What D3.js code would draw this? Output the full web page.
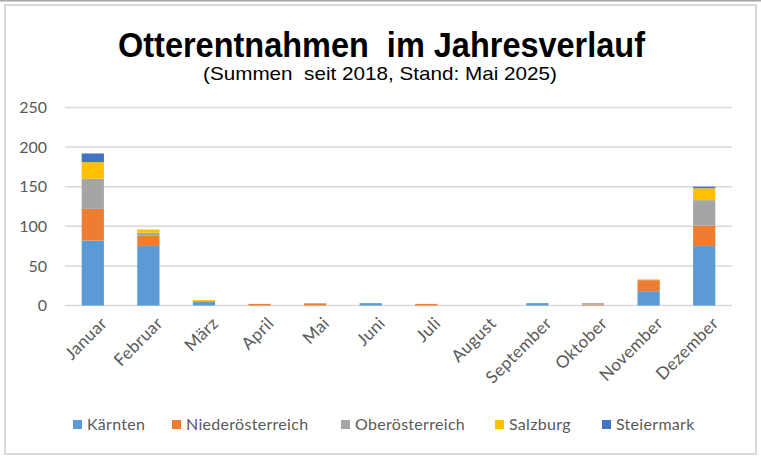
<!DOCTYPE html>
<html>
<head>
<meta charset="utf-8">
<script src="https://cdn.jsdelivr.net/npm/d3@7"></script>
<style>
html,body{margin:0;padding:0;background:#fff;}
svg{display:block;}
.pre{white-space:pre;}
</style>
</head>
<body>
<svg id="chart" width="761" height="458"></svg>
<script>
const months = ["Januar","Februar","März","April","Mai","Juni","Juli","August","September","Oktober","November","Dezember"];
const seriesNames = ["Kärnten","Niederösterreich","Oberösterreich","Salzburg","Steiermark"];
const colors = ["#5B9BD5","#ED7D31","#A5A5A5","#FFC000","#4472C4"];
const kaernten        = [82, 75, 5, 0, 0, 3, 0, 0, 3, 0, 18, 75];
const niederoesterr   = [40, 13, 1, 2, 2, 0, 2, 0, 0, 1, 14, 26];
const oberoesterr     = [38, 4, 0, 0, 1, 0, 0, 0, 0, 2, 0, 32];
const salzburg        = [21, 4, 1, 0, 0, 0, 0, 0, 0, 0, 1, 15];
const steiermark      = [11, 0, 0, 0, 0, 0, 0, 0, 0, 0, 0, 2];
const yTicks = [0, 50, 100, 150, 200, 250];

const seriesValues = [kaernten, niederoesterr, oberoesterr, salzburg, steiermark];
const table = months.map((m, i) => {
  const row = {month: m};
  seriesNames.forEach((s, j) => row[s] = seriesValues[j][i]);
  return row;
});

const svg = d3.select("#chart");
const W = 761, H = 458;

// frame
svg.append("rect").attr("x",0).attr("y",0).attr("width",W).attr("height",H).attr("fill","#fff");
svg.append("line").attr("x1",0).attr("x2",W).attr("y1",0.75).attr("y2",0.75).attr("stroke","#A6A6A6").attr("stroke-width",1.5);
svg.append("rect").attr("x",5).attr("y",5).attr("width",751).attr("height",449)
  .attr("fill","none").attr("stroke","#D9D9D9").attr("stroke-width",2);

const m = {left: 65, right: 29};
const x = d3.scaleBand().domain(months).range([m.left, W - m.right]).paddingInner(0.6).paddingOuter(0.3);
const y = d3.scaleLinear().domain([0, 250]).range([305.5, 107.5]);

// gridlines
svg.append("g").selectAll("line").data(yTicks).join("line")
  .attr("x1", m.left).attr("x2", W - m.right)
  .attr("y1", d => y(d)).attr("y2", d => y(d))
  .attr("stroke", "#D9D9D9").attr("stroke-width", 1.5);

// y axis labels
const yAxis = d3.axisLeft(y).tickValues(yTicks).tickSize(0).tickPadding(0);
const yg = svg.append("g").attr("transform", `translate(${47},0)`).call(yAxis);
yg.select(".domain").remove();
yg.selectAll("text").attr("font-family","Lato, 'Open Sans', sans-serif").attr("font-size",16).attr("fill","#595959");

// bars
const stack = d3.stack().keys(seriesNames);
const stacked = stack(table);
svg.append("g").selectAll("g").data(stacked).join("g")
  .attr("fill", (d, i) => colors[i])
  .selectAll("rect").data(d => d).join("rect")
  .attr("x", d => x(d.data.month))
  .attr("width", x.bandwidth())
  .attr("y", d => y(d[1]))
  .attr("height", d => Math.max(0, y(d[0]) - y(d[1])));

// x axis labels
const xAxis = d3.axisBottom(x).tickSize(0).tickPadding(0);
const xg = svg.append("g").attr("transform", `translate(0,${316})`).call(xAxis);
xg.select(".domain").remove();
xg.selectAll("text")
  .attr("font-family","Lato, 'Open Sans', sans-serif").attr("font-size",17).attr("fill","#595959")
  .attr("letter-spacing", 0.4)
  .attr("text-anchor","end").attr("dy","0.7em")
  .attr("transform","translate(7,0) rotate(-45)");

// title
svg.append("text").attr("class","pre").attr("x", 381.5).attr("y", 57).attr("text-anchor","middle")
  .attr("font-family","'Liberation Sans', Arial, sans-serif").attr("font-weight","bold").attr("font-size",35)
  .attr("textLength", 527).attr("lengthAdjust","spacingAndGlyphs")
  .attr("fill","#000").text("Otterentnahmen  im Jahresverlauf");
svg.append("text").attr("class","pre").attr("x", 380).attr("y", 80).attr("text-anchor","middle")
  .attr("font-family","'Liberation Sans', Arial, sans-serif").attr("font-size",19)
  .attr("textLength", 354).attr("lengthAdjust","spacingAndGlyphs")
  .attr("fill","#000").text("(Summen  seit 2018, Stand: Mai 2025)");

// legend
const legendX = [73, 172, 341, 495, 602];
const lg = svg.append("g").selectAll("g").data(seriesNames).join("g")
  .attr("transform", (d, i) => `translate(${legendX[i]},${420})`);
lg.append("rect").attr("width", 9).attr("height", 9).attr("fill", (d, i) => colors[i]);
lg.append("text").attr("x", 14).attr("y", 9.5)
  .attr("font-family","Lato, 'Open Sans', sans-serif").attr("font-size",16).attr("fill","#595959")
  .attr("letter-spacing", 0.3)
  .text(d => d);
</script>
</body>
</html>
